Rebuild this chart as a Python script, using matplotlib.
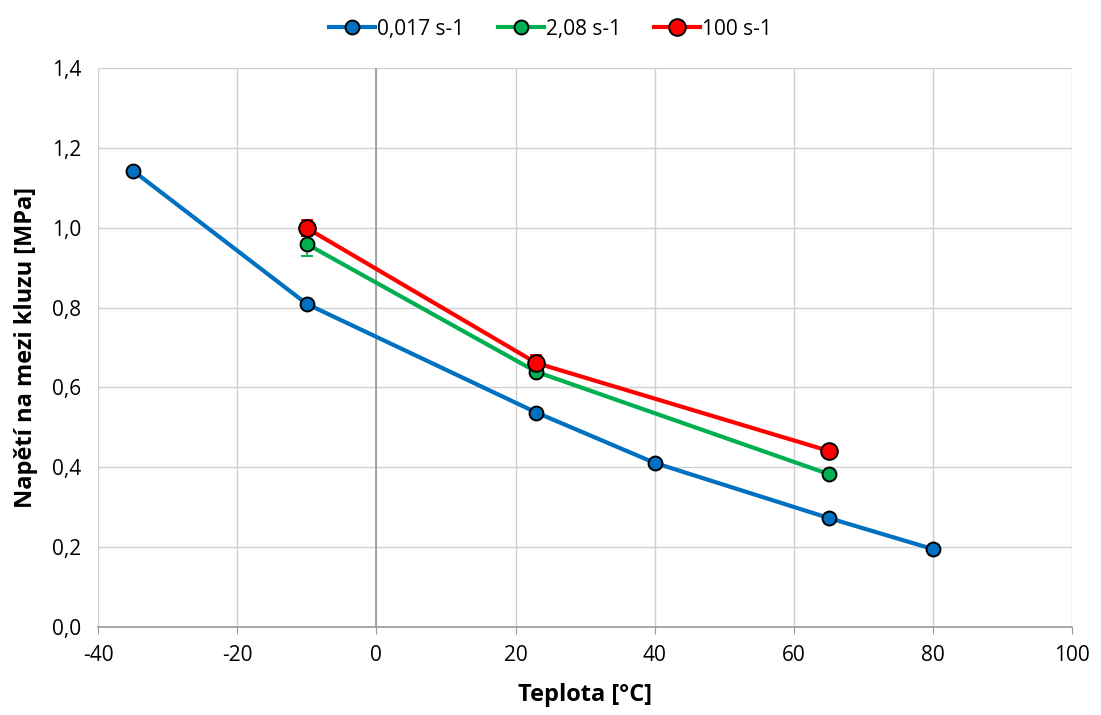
import matplotlib
matplotlib.use("Agg")
import matplotlib.pyplot as plt
from matplotlib.lines import Line2D
from matplotlib.ticker import FuncFormatter

plt.rcParams['font.family'] = ['Open Sans', 'DejaVu Sans']
plt.rcParams['axes.unicode_minus'] = False

# Data
t_017 = [-35, -10, 23, 40, 65, 80]
s_017 = [1.143, 0.809, 0.537, 0.411, 0.273, 0.195]
e_017 = [0.005, 0.006, 0.006, 0.005, 0.005, 0.004]

t_208 = [-10, 23, 65]
s_208 = [0.959, 0.639, 0.383]
e_208 = [0.03, 0.01, 0.006]

t_100 = [-10, 23, 65]
s_100 = [0.999, 0.661, 0.441]
e_100 = [0.02, 0.02, 0.006]

labels = ["0,017 s-1", "2,08 s-1", "100 s-1"]
colors = ["#0070C0", "#00B050", "#FF0000"]
msizes = [10, 10, 12]

fig = plt.figure(figsize=(11.01, 7.15), dpi=100)
ax = fig.add_axes([0.089, 0.123, 0.885, 0.782])

series = [(t_017, s_017, e_017), (t_208, s_208, e_208), (t_100, s_100, e_100)]
handles = []
for (x, y, e), lab, c, ms in zip(series, labels, colors, msizes):
    ax.errorbar(x, y, yerr=e, color=c, lw=3, marker='o', ms=ms,
                mfc=c, mec='black', mew=1.4, ecolor=c, elinewidth=1.2,
                capsize=4, zorder=3)
    handles.append(Line2D([], [], color=c, lw=3, marker='o', ms=ms,
                          mfc=c, mec='black', mew=1.4, label=lab))

ax.set_xlim(-40, 100)
ax.set_ylim(0, 1.4)
ax.set_xticks(range(-40, 101, 20))
ax.set_yticks([0, 0.2, 0.4, 0.6, 0.8, 1.0, 1.2, 1.4])
ax.yaxis.set_major_formatter(FuncFormatter(lambda v, p: f"{v:.1f}".replace('.', ',')))
ax.grid(True, color='#D0D0D0', lw=1)
ax.set_axisbelow(True)
ax.axvline(0, color='#999999', lw=1.2, zorder=1)

for side in ['top', 'right', 'left']:
    ax.spines[side].set_visible(False)
ax.spines['bottom'].set_color('#999999')
ax.spines['bottom'].set_linewidth(1.2)
ax.tick_params(axis='y', length=0, labelsize=15, pad=12)
ax.tick_params(axis='x', length=5, color='#999999', labelsize=15, pad=8)

ax.set_xlabel('Teplota [°C]', fontsize=17, fontweight='bold', labelpad=12)
ax.set_ylabel('Napětí na mezi kluzu [MPa]', fontsize=17, fontweight='bold', labelpad=10)

fig.legend(handles=handles, loc='upper center', bbox_to_anchor=(0.5, 1.0), ncol=3,
           frameon=False, fontsize=15, handlelength=2.2, handletextpad=0.1,
           columnspacing=1.6)

fig.savefig('out.png', dpi=100)
